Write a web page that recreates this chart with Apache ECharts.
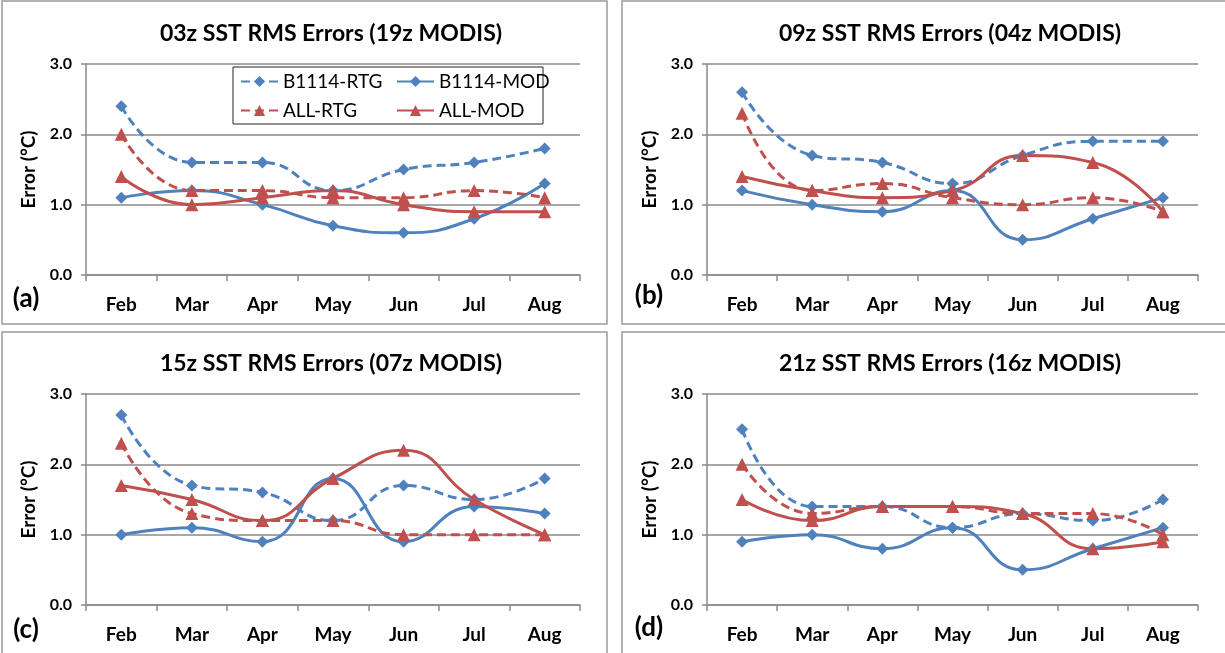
<!DOCTYPE html>
<html>
<head>
<meta charset="utf-8">
<script src="https://cdn.jsdelivr.net/npm/echarts@6/dist/echarts.min.js"></script>
<style>
html,body{margin:0;padding:0;background:#fff;}
#chart{width:1225px;height:653px;}
</style>
</head>
<body>
<div id="chart"></div>
<script>
// ---- data ----
var categories = ['Feb','Mar','Apr','May','Jun','Jul','Aug'];
var yTicks = [0, 1, 2, 3];
var panelTitles = ['03z SST RMS Errors (19z MODIS)','09z SST RMS Errors (04z MODIS)','15z SST RMS Errors (07z MODIS)','21z SST RMS Errors (16z MODIS)'];
var panelLabels = ['(a)','(b)','(c)','(d)'];
var seriesNames = ['B1114-RTG','B1114-MOD','ALL-RTG','ALL-MOD'];

var a_B1114_RTG = [2.4, 1.6, 1.6, 1.2, 1.5, 1.6, 1.8];
var a_B1114_MOD = [1.1, 1.2, 1.0, 0.7, 0.6, 0.8, 1.3];
var a_ALL_RTG   = [2.0, 1.2, 1.2, 1.1, 1.1, 1.2, 1.1];
var a_ALL_MOD   = [1.4, 1.0, 1.1, 1.2, 1.0, 0.9, 0.9];

var b_B1114_RTG = [2.6, 1.7, 1.6, 1.3, 1.7, 1.9, 1.9];
var b_B1114_MOD = [1.2, 1.0, 0.9, 1.2, 0.5, 0.8, 1.1];
var b_ALL_RTG   = [2.3, 1.2, 1.3, 1.1, 1.0, 1.1, 0.9];
var b_ALL_MOD   = [1.4, 1.2, 1.1, 1.2, 1.7, 1.6, 0.9];

var c_B1114_RTG = [2.7, 1.7, 1.6, 1.2, 1.7, 1.5, 1.8];
var c_B1114_MOD = [1.0, 1.1, 0.9, 1.8, 0.9, 1.4, 1.3];
var c_ALL_RTG   = [2.3, 1.3, 1.2, 1.2, 1.0, 1.0, 1.0];
var c_ALL_MOD   = [1.7, 1.5, 1.2, 1.8, 2.2, 1.5, 1.0];

var d_B1114_RTG = [2.5, 1.4, 1.4, 1.1, 1.3, 1.2, 1.5];
var d_B1114_MOD = [0.9, 1.0, 0.8, 1.1, 0.5, 0.8, 1.1];
var d_ALL_RTG   = [2.0, 1.3, 1.4, 1.4, 1.3, 1.3, 1.0];
var d_ALL_MOD   = [1.5, 1.2, 1.4, 1.4, 1.3, 0.8, 0.9];

var panelData = [
  [a_B1114_RTG, a_B1114_MOD, a_ALL_RTG, a_ALL_MOD],
  [b_B1114_RTG, b_B1114_MOD, b_ALL_RTG, b_ALL_MOD],
  [c_B1114_RTG, c_B1114_MOD, c_ALL_RTG, c_ALL_MOD],
  [d_B1114_RTG, d_B1114_MOD, d_ALL_RTG, d_ALL_MOD]
];

// ---- styling / layout ----
var BLUE = '#4F81BD', RED = '#C0504D';
var FONT = 'Lato';
var GRAY = '#8a8a8a';
var seriesStyle = [
  {color: BLUE, dashed: true,  symbol: 'diamond',  size: 12},
  {color: BLUE, dashed: false, symbol: 'diamond',  size: 12},
  {color: RED,  dashed: true,  symbol: 'triangle', size: 13},
  {color: RED,  dashed: false, symbol: 'triangle', size: 13}
];
var grids = [
  {left: 86,  right: 645, top: 64,  bottom: 378},
  {left: 707, right: 27,  top: 64,  bottom: 378},
  {left: 86,  right: 645, top: 394, bottom: 48},
  {left: 707, right: 27,  top: 394, bottom: 48}
];
var titlePos = [[331, 35], [950, 35], [331, 365], [950, 365]];
var labelPos = [[26, 299], [649, 296], [26, 630], [649, 628]];
var frames = [[2, 1, 605, 323], [622, 1, 620, 323], [2, 332, 605, 340], [622, 332, 620, 340]];

var legendText = {fontFamily: FONT, fontSize: 19, color: '#000'};
var option = {
  backgroundColor: '#fff',
  animation: false,
  title: [],
  grid: [],
  xAxis: [],
  yAxis: [],
  series: [],
  legend: [
    {
      data: ['B1114-RTG', 'ALL-RTG'], orient: 'vertical', left: 240, top: 72, padding: 0,
      itemWidth: 37, itemHeight: 14, itemGap: 10, selectedMode: false, textStyle: legendText
    },
    {
      data: ['B1114-MOD', 'ALL-MOD'], orient: 'vertical', left: 396, top: 72, padding: 0,
      itemWidth: 37, itemHeight: 14, itemGap: 10, selectedMode: false, textStyle: legendText
    }
  ],
  graphic: []
};

for (var p = 0; p < 4; p++) {
  option.grid.push(Object.assign({containLabel: false}, grids[p]));
  option.title.push({
    text: panelTitles[p], left: titlePos[p][0], top: titlePos[p][1] - 13, padding: 0,
    textAlign: 'center',
    textStyle: {fontFamily: FONT, fontWeight: 'bold', fontSize: 23, color: '#000'}
  });
  option.xAxis.push({
    type: 'category', gridIndex: p, data: categories, boundaryGap: true,
    axisLine: {show: true, lineStyle: {color: GRAY, width: 1.5}},
    axisTick: {show: true, length: 6, alignWithLabel: false, lineStyle: {color: GRAY, width: 1.5}},
    axisLabel: {margin: 20, fontFamily: FONT, fontWeight: 'bold', fontSize: 19, color: '#000'},
    splitLine: {show: false}
  });
  option.yAxis.push({
    type: 'value', gridIndex: p, min: yTicks[0], max: yTicks[yTicks.length - 1], interval: 1,
    name: 'Error (°C)', nameLocation: 'middle', nameRotate: 90, nameGap: 48,
    nameTextStyle: {fontFamily: FONT, fontWeight: 'bold', fontSize: 19, color: '#000'},
    axisLine: {show: true, lineStyle: {color: GRAY, width: 1.5}},
    axisTick: {show: true, length: 5, lineStyle: {color: GRAY, width: 1.5}},
    axisLabel: {margin: 14, fontFamily: FONT, fontWeight: 'bold', fontSize: 16, color: '#000',
      formatter: function (v) { return v.toFixed(1); }},
    splitLine: {show: true, lineStyle: {color: GRAY, width: 1.5}}
  });
  for (var s = 0; s < 4; s++) {
    var st = seriesStyle[s];
    option.series.push({
      name: seriesNames[s], type: 'line', xAxisIndex: p, yAxisIndex: p,
      data: panelData[p][s], smooth: 0.5,
      symbol: st.symbol, symbolSize: st.size, showSymbol: true,
      lineStyle: {color: st.color, width: 3, type: st.dashed ? [9, 5] : 'solid'},
      itemStyle: {color: st.color},
      z: 3
    });
  }
  option.graphic.push({
    type: 'rect', shape: {x: frames[p][0], y: frames[p][1], width: frames[p][2], height: frames[p][3]},
    style: {fill: 'none', stroke: '#9a9a9a', lineWidth: 1.5}, silent: true, z: 0
  });
  option.graphic.push({
    type: 'text', x: labelPos[p][0], y: labelPos[p][1],
    style: {text: panelLabels[p], font: 'bold 26px ' + FONT, fill: '#000', textAlign: 'center', textVerticalAlign: 'middle'},
    silent: true
  });
}
option.graphic.push({
  type: 'rect', shape: {x: 233, y: 67, width: 310, height: 57},
  style: {fill: 'none', stroke: '#222', lineWidth: 1}, silent: true
});

var chart = echarts.init(document.getElementById('chart'), null, {renderer: 'canvas'});
chart.setOption(option);
</script>
</body>
</html>
